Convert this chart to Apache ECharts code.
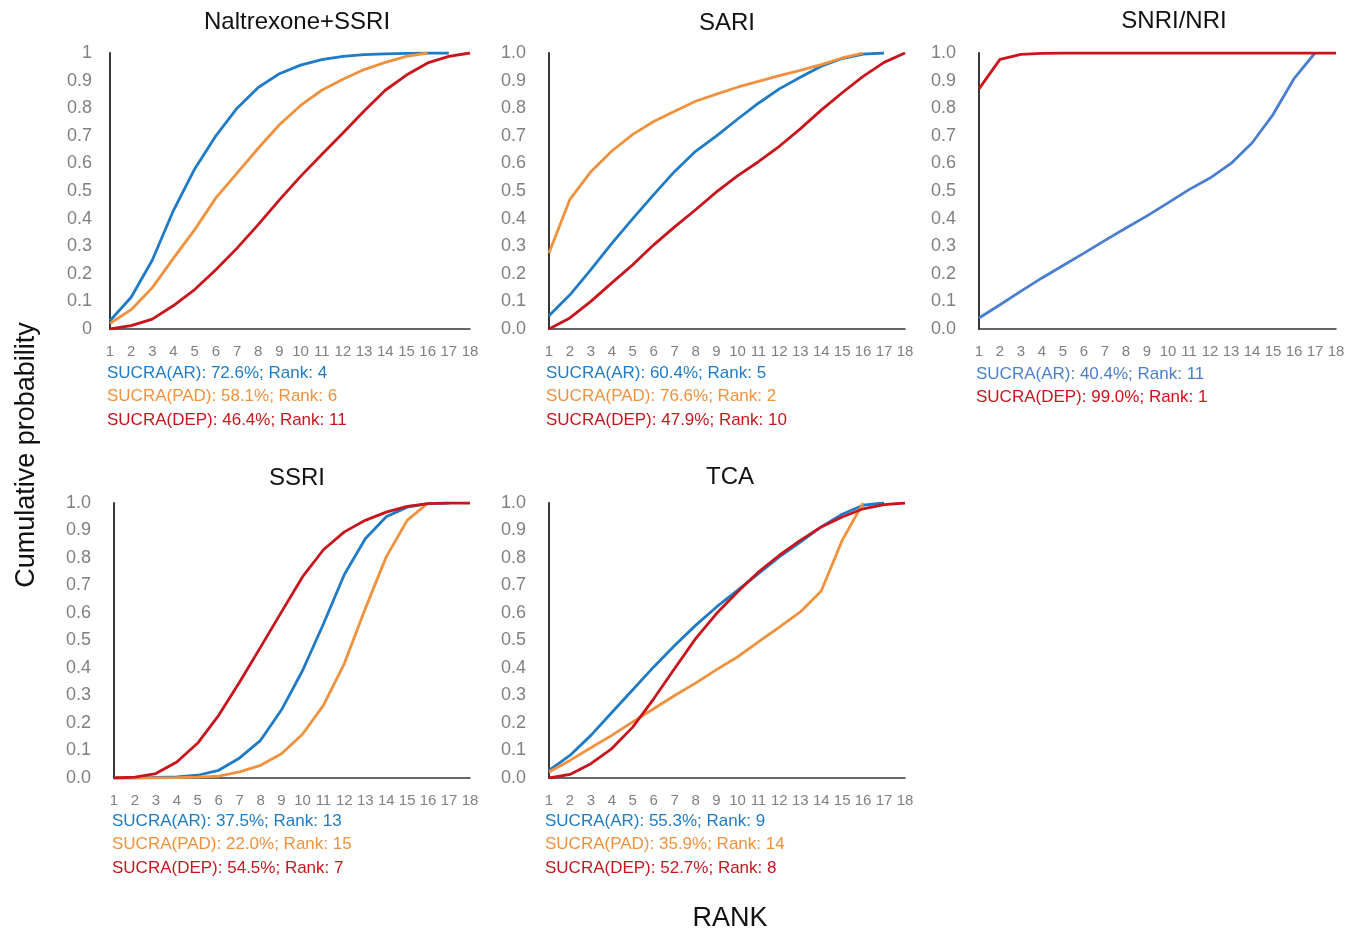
<!DOCTYPE html>
<html>
<head>
<meta charset="utf-8">
<title>SUCRA cumulative ranking</title>
<script src="https://cdn.jsdelivr.net/npm/echarts@6/dist/echarts.min.js"></script>
<style>
  html, body { margin: 0; padding: 0; background: #fff; }
  #main { width: 1358px; height: 934px; }
</style>
</head>
<body>
<div id="main"></div>
<script>
// ranks on the x axis
const ranks = [1, 2, 3, 4, 5, 6, 7, 8, 9, 10, 11, 12, 13, 14, 15, 16, 17, 18];

// Naltrexone+SSRI
const naltAR  = [0.03, 0.115, 0.25, 0.43, 0.58, 0.70, 0.80, 0.875, 0.925, 0.956, 0.976, 0.988, 0.994, 0.997, 0.999, 1.0, 1.0];
const naltPAD = [0.02, 0.07, 0.15, 0.257, 0.36, 0.475, 0.565, 0.655, 0.74, 0.81, 0.865, 0.905, 0.94, 0.966, 0.988, 1.0];
const naltDEP = [0.0, 0.012, 0.036, 0.085, 0.143, 0.215, 0.293, 0.378, 0.468, 0.553, 0.632, 0.71, 0.79, 0.865, 0.92, 0.964, 0.988, 1.0];

// SARI
const sariAR  = [0.048, 0.124, 0.215, 0.31, 0.40, 0.487, 0.571, 0.644, 0.70, 0.76, 0.818, 0.87, 0.912, 0.952, 0.98, 0.996, 1.0];
const sariPAD = [0.275, 0.47, 0.57, 0.645, 0.705, 0.752, 0.789, 0.825, 0.851, 0.876, 0.897, 0.918, 0.937, 0.958, 0.982, 1.0];
const sariDEP = [0.0, 0.04, 0.10, 0.167, 0.233, 0.305, 0.37, 0.432, 0.497, 0.555, 0.606, 0.662, 0.725, 0.793, 0.856, 0.915, 0.966, 1.0];

// SNRI/NRI
const snriAR  = [0.04, 0.088, 0.137, 0.185, 0.23, 0.275, 0.321, 0.366, 0.41, 0.457, 0.505, 0.547, 0.60, 0.674, 0.777, 0.907, 1.0];
const snriDEP = [0.87, 0.977, 0.995, 0.999, 1, 1, 1, 1, 1, 1, 1, 1, 1, 1, 1, 1, 1, 1];

// SSRI
const ssriAR  = [0.0, 0.0, 0.002, 0.004, 0.01, 0.028, 0.073, 0.137, 0.248, 0.39, 0.56, 0.74, 0.87, 0.95, 0.985, 0.998, 1.0];
const ssriPAD = [0.0, 0.0, 0.0, 0.001, 0.003, 0.007, 0.022, 0.046, 0.088, 0.159, 0.264, 0.416, 0.616, 0.804, 0.937, 1.0];
const ssriDEP = [0.0, 0.003, 0.016, 0.058, 0.127, 0.228, 0.349, 0.476, 0.604, 0.731, 0.83, 0.895, 0.937, 0.967, 0.988, 0.998, 1.0, 1.0];

// TCA
const tcaAR  = [0.028, 0.082, 0.155, 0.238, 0.321, 0.404, 0.482, 0.555, 0.622, 0.682, 0.743, 0.804, 0.858, 0.913, 0.959, 0.992, 1.0];
const tcaPAD = [0.022, 0.064, 0.11, 0.155, 0.204, 0.252, 0.30, 0.345, 0.394, 0.44, 0.495, 0.549, 0.604, 0.68, 0.864, 1.0];
const tcaDEP = [0.0, 0.013, 0.052, 0.107, 0.185, 0.288, 0.398, 0.507, 0.598, 0.676, 0.749, 0.81, 0.864, 0.913, 0.949, 0.979, 0.994, 1.0];

const panelTitles = ['Naltrexone+SSRI', 'SARI', 'SNRI/NRI', 'SSRI', 'TCA'];
const sucraText = [
  ['SUCRA(AR): 72.6%; Rank: 4', 'SUCRA(PAD): 58.1%; Rank: 6', 'SUCRA(DEP): 46.4%; Rank: 11'],
  ['SUCRA(AR): 60.4%; Rank: 5', 'SUCRA(PAD): 76.6%; Rank: 2', 'SUCRA(DEP): 47.9%; Rank: 10'],
  ['SUCRA(AR): 40.4%; Rank: 11', 'SUCRA(DEP): 99.0%; Rank: 1'],
  ['SUCRA(AR): 37.5%; Rank: 13', 'SUCRA(PAD): 22.0%; Rank: 15', 'SUCRA(DEP): 54.5%; Rank: 7'],
  ['SUCRA(AR): 55.3%; Rank: 9', 'SUCRA(PAD): 35.9%; Rank: 14', 'SUCRA(DEP): 52.7%; Rank: 8']
];

var BLUE = '#1f7bc6', ORANGE = '#f0913e', RED = '#c8151d';
var BLUE2 = '#4a7fd0', RED2 = '#d0121b';

// layout of the five plots
var grids = [
  { left: 110, top: 53, width: 360, height: 276 },
  { left: 549, top: 53, width: 356, height: 276 },
  { left: 979, top: 53, width: 357, height: 276 },
  { left: 114, top: 503, width: 356, height: 275 },
  { left: 549, top: 503, width: 356, height: 275 }
];
var titlePos = [[297, 22], [727, 23], [1174, 21], [297, 478], [730, 477]];
var textPos = [[107, 373], [546, 373], [976, 374], [112, 821], [545, 821]];

var panels = [
  [[naltAR, BLUE], [naltPAD, ORANGE], [naltDEP, RED]],
  [[sariAR, BLUE], [sariPAD, ORANGE], [sariDEP, RED]],
  [[snriAR, BLUE2], [snriDEP, RED2]],
  [[ssriAR, BLUE], [ssriPAD, ORANGE], [ssriDEP, RED]],
  [[tcaAR, BLUE], [tcaPAD, ORANGE], [tcaDEP, RED]]
];

function pairs(arr) {
  return arr.map((v, i) => [ranks[i], v]);
}

var xAxes = [], yAxes = [], series = [], graphics = [];

grids.forEach((g, gi) => {
  xAxes.push({
    gridIndex: gi,
    type: 'value',
    min: 1, max: 18, interval: 1,
    axisLine: { show: true, lineStyle: { color: '#333', width: 1.5 } },
    axisTick: { show: false },
    splitLine: { show: false },
    axisLabel: { color: '#808080', fontSize: 15, margin: 15, fontFamily: 'Liberation Sans, Arial' }
  });
  yAxes.push({
    gridIndex: gi,
    type: 'value',
    min: 0, max: 1, interval: 0.1,
    axisLine: { show: true, lineStyle: { color: '#222', width: 1.8 } },
    axisTick: { show: false },
    splitLine: { show: false },
    axisLabel: {
      color: '#808080', fontSize: 18, margin: gi === 0 ? 18 : 23,
      fontFamily: 'Liberation Sans, Arial',
      formatter: v => {
        if (gi === 0 && (v === 0 || Math.abs(v - 1) < 1e-9)) return String(Math.round(v));
        return v.toFixed(1);
      }
    }
  });
  panels[gi].forEach(s => {
    series.push({
      type: 'line',
      xAxisIndex: gi, yAxisIndex: gi,
      data: pairs(s[0]),
      showSymbol: false,
      lineStyle: { color: s[1], width: 2.8 },
      itemStyle: { color: s[1] },
      animation: false
    });
  });
  graphics.push({
    type: 'text', x: titlePos[gi][0], y: titlePos[gi][1],
    style: { text: panelTitles[gi], fill: '#111', font: '24px "Liberation Sans", Arial', textAlign: 'center', textVerticalAlign: 'middle' }
  });
  sucraText[gi].forEach((t, ti) => {
    var c = panels[gi][ti][1];
    graphics.push({
      type: 'text', x: textPos[gi][0], y: textPos[gi][1] + ti * 23.5,
      style: { text: t, fill: c, font: '17px "Liberation Sans", Arial', textAlign: 'left', textVerticalAlign: 'middle' }
    });
  });
});

graphics.push({
  type: 'text', x: 27, y: 455, rotation: Math.PI / 2,
  style: { text: 'Cumulative probability', fill: '#111', font: '27px "Liberation Sans", Arial', textAlign: 'center', textVerticalAlign: 'middle' }
});
graphics.push({
  type: 'text', x: 730, y: 919,
  style: { text: 'RANK', fill: '#111', font: '27px "Liberation Sans", Arial', textAlign: 'center', textVerticalAlign: 'middle' }
});

var myChart = echarts.init(document.getElementById('main'));
myChart.setOption({
  backgroundColor: '#fff',
  animation: false,
  grid: grids,
  xAxis: xAxes,
  yAxis: yAxes,
  series: series,
  graphic: graphics
});
</script>
</body>
</html>
